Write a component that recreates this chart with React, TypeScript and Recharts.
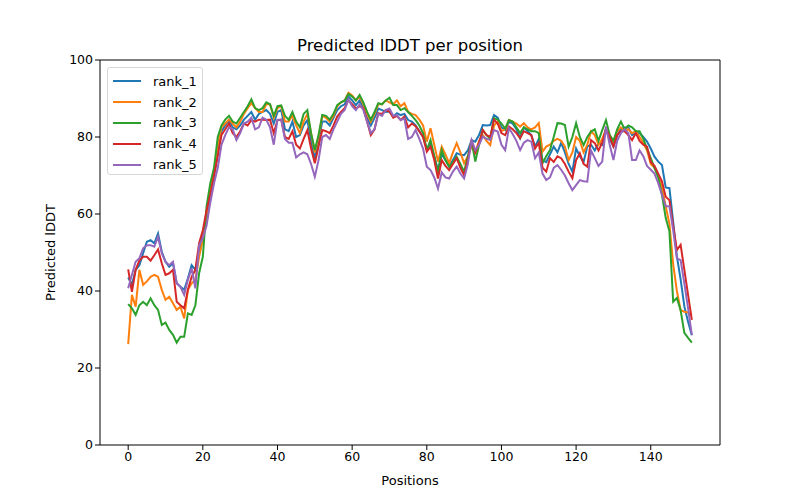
import { Line, LineChart, ReferenceLine, XAxis, YAxis } from 'recharts'

// predicted lDDT per residue position, one array per model rank
const rank1 = [
  43.5, 41.6, 45.5, 46.7, 49.8, 52.8, 53.2, 52.4, 54.9, 50.2, 47.6, 46.3, 47.2, 42, 41.1, 40.3, 43.3, 46.7, 45.5, 50.2,
  54.9, 58, 66, 70, 76, 81.5, 83,
  84.4, 82.5, 82, 83, 84.5, 85.5, 86.5, 84.5, 86, 86.5, 87, 86, 83.5, 86.5, 87, 82, 81.5, 84, 80, 80.5, 83, 84.4, 79, 74.4,
  79, 84, 84, 83, 85, 87, 88, 88.5, 90.5, 89.5, 88.3, 89.5, 87.5, 85, 83, 85, 87.4, 87, 86.5, 86.6, 85.3, 86.2, 85.7, 86,
  84.4, 84, 83, 81.5,
  80, 77, 78.2, 75, 71.4, 75.5, 74, 72.3, 74, 75.8, 75.4, 75.3, 76.5, 79.2, 78.8, 80.5, 83.1, 83, 83.1, 85.7, 85, 82.5,
  81.8, 84, 83.5, 82, 79.7, 82.5, 81.5, 80.5, 77.5, 79.5, 74, 73.5, 75.5, 77.5, 76, 78.5, 76, 73, 71, 77, 75, 73.5, 77.5,
  78, 76.5, 78.5, 78, 82, 79.5, 77.5, 80.5, 82, 82.5, 82.5, 80.5, 81, 81, 80, 78.8, 77, 74.9, 73.6, 72.7, 66.9, 66.7, 58,
  49, 43, 36, 32, 28.5,
]

const rank2 = [
  26.2, 39, 35.9, 45.5, 41.6, 42.5, 43.7, 44.2, 43.7, 40.3, 37.7, 38.5, 36.8, 35.1, 35.9, 32.9, 40.3, 42, 42.9, 48.9,
  53.2, 60, 67, 71, 78, 82.5, 83.5,
  84.5, 83.5, 82.5, 84, 86, 87.5, 88.8, 87.5, 86.5, 86.5, 88.5, 88.5, 85, 87.5, 88, 84, 84, 85.5, 83, 81, 84, 86, 81, 76,
  80, 85.5, 85, 84, 85.5, 88, 89, 89.5, 91.5, 90.8, 89.5, 90.5, 88.5, 86, 84, 86, 88.5, 88.5, 89.5, 89, 88.5, 89.5, 88,
  88.8, 86.5, 86, 85.7, 84.5,
  83, 78.8, 82.3, 78, 73.6, 77.5, 75.5, 73.2, 76, 78.4, 76, 73.2, 75, 77.5, 76, 79, 80.5, 79, 77.9, 83, 84, 81.5, 82,
  84.4, 84, 83.5, 82.7, 83.6, 82.5, 82, 82.5, 83.6, 76.2, 77.5, 78, 79, 79.5, 79, 77.5, 74, 76, 80, 79, 76, 78,
  81.5, 80.5, 78, 79.5, 82, 80.5, 78.5, 81.5, 82.5, 81.5, 82, 81, 81.5, 80, 78.5, 76.5, 73, 72, 70, 67, 62, 57.5, 47, 40,
  35, 34.6, 34.4, 33.8,
]

const rank3 = [
  36.6, 35.5, 33.8, 36.3, 37.2, 36.3, 38.1, 36.3, 35.1, 31.2, 31.8, 29.9, 28.6, 26.6, 28.1, 28.1, 34.2, 33.8, 36.3, 44.6,
  48.9, 62, 68, 72, 80, 83, 84.5,
  85.5, 84, 83.5, 85, 86.5, 88, 89.8, 87.5, 87, 87.5, 89, 88.5, 85.5, 88, 88.2, 85.5, 84.5, 86.5, 84, 82.5, 86, 87, 81,
  76.6, 80.5, 85.7, 85.5, 84.5, 86, 88.3, 89, 89.5, 91.2, 90.5, 89.5, 90.9, 89, 86.5, 84.5, 86.5, 88.8, 88.5, 89.5, 90.2,
  88.3, 88.3, 87, 87.5, 86.5, 85.5, 84.4, 83,
  81, 76.6, 79.2, 75, 70.6, 76.6, 74, 72.3, 73.5, 74.9, 73, 71, 75, 78.8, 73.6, 78, 81.8, 80.5, 79.5, 84.9, 84.5, 83.5,
  82.2, 84.4, 84, 82.5, 81, 82.5, 82, 81.5, 81.5, 81, 73.2, 75, 76.6, 80, 83.6, 83.5, 83.1, 77.5, 80, 83.6, 80, 77.9, 80,
  81.4, 82, 79, 81.8, 84.4, 80.5, 79, 82, 84, 82, 83, 82.5, 81.5, 81.5, 79.5, 77, 74.5, 72, 69.5, 65, 59, 55.5, 37.2,
  38.2, 35, 29.1, 27.8, 26.6,
]

const rank4 = [
  45.6, 39.8, 45.5, 47.9, 48.9, 48.9, 47.9, 49.3, 50.8, 47.2, 44.2, 44.6, 45.5, 37.2, 36.3, 35.5, 40.3, 43.7, 45.5, 52.4,
  55.8, 61, 65, 70, 75, 80.5, 82,
  83.5, 81, 80, 81.5, 83.5, 83, 84.4, 84, 84.5, 84.5, 84.4, 84.5, 81, 84.4, 84.5, 80, 79.5, 81.5, 78, 77, 79.5, 81.8, 77,
  73.2, 77.5, 81.8, 81.5, 81, 83, 85.3, 86.5, 87.5, 89.6, 88.5, 87.4, 88, 87.5, 84, 80.5, 82, 86.2, 86, 87, 86.6, 85,
  85.5, 84.4, 85.3, 82.5, 83.5, 82.8, 81.5,
  80, 76.2, 77.5, 74, 69.2, 74, 72.5, 71.4, 73, 74.5, 72, 70.1, 74, 79.2, 76, 78.5, 81.8, 80.5, 80, 84.5, 83.5, 81, 80.5,
  82.7, 82, 81, 79.7, 81.5, 81, 80.5, 77, 78.5, 72, 71, 74.5, 73.5, 75, 74.5, 73, 71, 69.3, 74, 75.8, 73, 72.3,
  79.2, 78.4, 76.5, 78.5, 82.2, 80, 77.5, 80.5, 81.5, 81.5, 80.5, 79.2, 81, 79, 78, 77.5, 73.5, 72.5, 70.5, 68.5, 64.5,
  63.6, 57, 50.6, 52, 45.5, 39, 32.5,
]

const rank5 = [
  40.7, 44.2, 47.6, 48.5, 51.1, 51.9, 51.9, 51.5, 54.1, 49.8, 47.6, 46.7, 47.6, 42, 41.1, 39, 42.9, 45.9, 40.7, 51.9,
  53.7, 57, 63, 68, 72, 78, 80.5,
  82.5, 82, 79.2, 81, 83.5, 84, 85, 82, 82.5, 85, 84.5, 82.5, 78, 84.5, 84.5, 79.5, 78.5, 78.5, 74.7, 75.5, 76, 75.5, 73,
  69.7, 74, 80, 80.5, 79.5, 82, 84, 86, 87, 89.8, 88, 87, 88.5, 87, 84, 81, 82, 86, 85.5, 87, 87.4, 85.5, 85.7, 84.4,
  84.8, 79.5, 80, 81.8, 79.5,
  77, 72.3, 71.4, 69.5, 66.6, 70.8, 69.5, 69.2, 71, 72.3, 70.5, 69.2, 73, 79.2, 76.6, 78, 80.1, 79.5, 79.2, 81.8, 81.4,
  78, 76.6, 82.3, 80.8, 79, 76.6, 78.5, 79.2, 78.8, 74.5, 76, 70.5, 68.8, 69.5, 72, 72.7, 71.5, 70, 68, 66.2, 67.5, 68.8,
  68.5, 68.4,
  76.5, 74.5, 72.5, 73.6, 82.7, 78, 74, 79, 81, 82, 81, 74, 74, 76.5, 75, 72.5, 71.5, 70.5, 68, 65, 62, 62, 55.8, 48.5,
  48, 42, 35.5, 28.6,
]

const seriesNames = ['rank_1', 'rank_2', 'rank_3', 'rank_4', 'rank_5']
const seriesValues = [rank1, rank2, rank3, rank4, rank5]
const colors = ['#1f77b4', '#ff7f0e', '#2ca02c', '#d62728', '#9467bd']

const xTicks = [0, 20, 40, 60, 80, 100, 120, 140]
const yTicks = [0, 20, 40, 60, 80, 100]

const FONT = '"DejaVu Sans", sans-serif'

const data = rank1.map((_, i) => {
  const row: Record<string, number> = { pos: i }
  seriesNames.forEach((name, k) => {
    row[name] = seriesValues[k][i]
  })
  return row
})

// matplotlib pads the x range by 5% on both sides
const xMin = -(data.length - 1) * 0.05
const xMax = (data.length - 1) * 1.05

export default function App() {
  return (
    <div style={{ position: 'absolute', left: 0, top: 0, width: 800, height: 500, background: '#fff', fontFamily: FONT }}>
      <div
        style={{
          position: 'absolute',
          left: 100,
          top: 36,
          width: 620,
          textAlign: 'center',
          fontSize: 16.5,
          color: '#000',
          lineHeight: '20px',
        }}
      >
        Predicted lDDT per position
      </div>

      <LineChart width={800} height={500} data={data} margin={{ top: 60, right: 80, bottom: 10, left: 40 }}>
        <XAxis
          dataKey="pos"
          type="number"
          domain={[xMin, xMax]}
          ticks={xTicks}
          allowDataOverflow
          height={45}
          tickSize={5}
          tick={{ fill: '#000', fontSize: 12.5, fontFamily: FONT }}
          tickLine={{ stroke: '#000' }}
          axisLine={{ stroke: '#000' }}
          label={{ value: 'Positions', position: 'insideBottom', offset: 5, fill: '#000', fontSize: 13, fontFamily: FONT }}
        />
        <YAxis
          type="number"
          domain={[0, 100]}
          ticks={yTicks}
          width={60}
          tickSize={5}
          tick={{ fill: '#000', fontSize: 12.5, fontFamily: FONT }}
          tickLine={{ stroke: '#000' }}
          axisLine={{ stroke: '#000' }}
          label={{
            value: 'Predicted lDDT',
            angle: -90,
            position: 'insideLeft',
            offset: 10,
            style: { textAnchor: 'middle' },
            fill: '#000',
            fontSize: 13,
            fontFamily: FONT,
          }}
        />
        <ReferenceLine y={100} stroke="#000" />
        <ReferenceLine x={xMax} stroke="#000" />
        {seriesNames.map((name, k) => (
          <Line
            key={name}
            type="linear"
            dataKey={name}
            stroke={colors[k]}
            strokeWidth={2}
            dot={false}
            isAnimationActive={false}
          />
        ))}
      </LineChart>

      {/* Legend */}
      <div
        style={{
          position: 'absolute',
          left: 107,
          top: 67,
          width: 96,
          height: 108,
          boxSizing: 'border-box',
          border: '1px solid #d6d6d6',
          borderRadius: 3,
          background: 'rgba(255,255,255,0.8)',
          paddingTop: 3,
        }}
      >
        {seriesNames.map((name, k) => (
          <div key={name} style={{ display: 'flex', alignItems: 'center', height: 20.8 }}>
            <div style={{ marginLeft: 5, width: 28, height: 2, background: colors[k] }} />
            <span style={{ marginLeft: 12, fontSize: 13, color: '#000' }}>{name}</span>
          </div>
        ))}
      </div>
    </div>
  )
}
